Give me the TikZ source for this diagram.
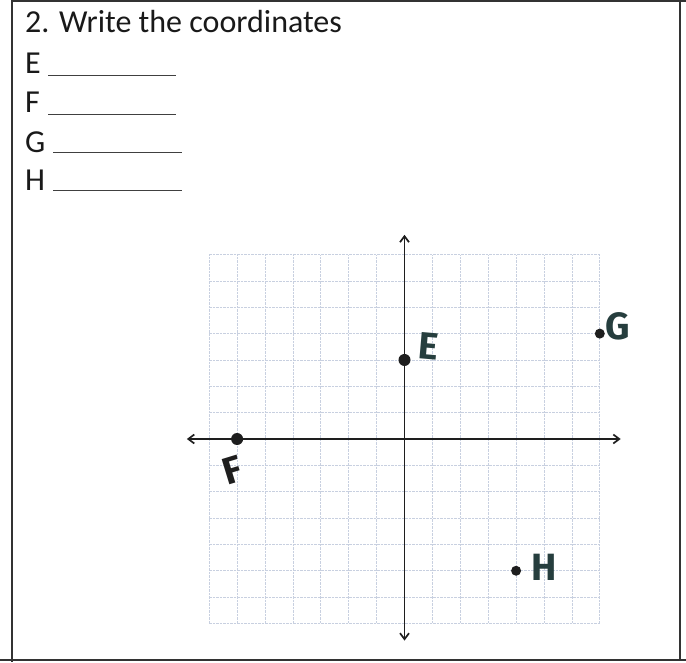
\documentclass[tikz,border=0pt]{standalone}
\usepackage{fontspec}
\setmainfont{Carlito}
\newfontfamily\handfont{Fira Sans}
\usepackage{xcolor}
\usetikzlibrary{arrows.meta}
\definecolor{gridc}{RGB}{200,208,224}
\definecolor{ink}{RGB}{38,62,62}
\definecolor{pen}{RGB}{30,30,30}

\begin{document}
\begin{tikzpicture}[x=1pt,y=-1pt,
    txt/.style={anchor=base west,inner sep=0pt,font=\fontsize{32}{32}\selectfont,text=black!90},
    blank/.style={draw=black!75,line width=1pt},
    gridline/.style={gridc,line width=0.8pt,dash pattern=on 2.5pt off 1pt},
    dot/.style={circle,fill=pen,inner sep=0pt,minimum size=#1},
    lbl/.style={font=\handfont\bfseries\fontsize{38}{38}\selectfont,text=ink,inner sep=0pt},
    axis/.style={{Straight Barb[length=6pt,width=9pt]}-{Straight Barb[length=6pt,width=9pt]},line width=1.7pt,pen}]
    \useasboundingbox (0,0) rectangle (686,662);
    % frame
    \draw[black!80,line width=1.3pt] (12,0) -- (12,662);
    \draw[black!80,line width=1.3pt] (12,1) -- (686,1);
    \draw[black!80,line width=1.3pt] (680,0) -- (680,660);
    \draw[black!80,line width=1.6pt] (0,660) -- (686,660);
    % question
    \node[txt] (q) at (25,32) {2. Write the coordinates};
    \node[txt] (qE) at (25,73) {E};
    \node[txt] (qF) at (25,112) {F};
    \node[txt] (qG) at (25,152) {G};
    \node[txt] (qH) at (25,190) {H};
    \draw[blank] (48,75) -- (176,75);
    \draw[blank] (48,114) -- (176,114);
    \draw[blank] (53,152.5) -- (182,152.5);
    \draw[blank] (53,190.5) -- (182,190.5);
    % plane
    \begin{scope}[shift={(404.5pt,-439pt)},x=27.9pt,y=26.35pt]
      \foreach \i in {-7,...,7} {
        \draw[gridline] (\i,-7) -- (\i,7);
        \draw[gridline] (-7,\i) -- (7,\i);
      }
      \coordinate (xl) at (-7.8,0);
      \coordinate (xr) at (7.75,0);
      \coordinate (yt) at (0,7.75);
      \coordinate (yb) at (0,-7.65);
      \draw[axis] (xl) -- (xr);
      \draw[axis] (yb) -- (yt);
      \node[dot=12pt] (E) at (0,3) {};
      \node[dot=12pt] (F) at (-6,0) {};
      \node[dot=10pt] (G) at (7,4) {};
      \node[dot=10pt] (H) at (4,-5) {};
      \node[lbl,rotate=-5] (lE) at (0.88,3.53) {E};
      \node[lbl,text=pen,rotate=17] (lF) at (-6.18,-1.18) {F};
      \node[lbl] (lG) at (7.65,4.29) {G};
      \node[lbl] (lH) at (5.0,-4.86) {H};
    \end{scope}
  \end{tikzpicture}
\end{document}
